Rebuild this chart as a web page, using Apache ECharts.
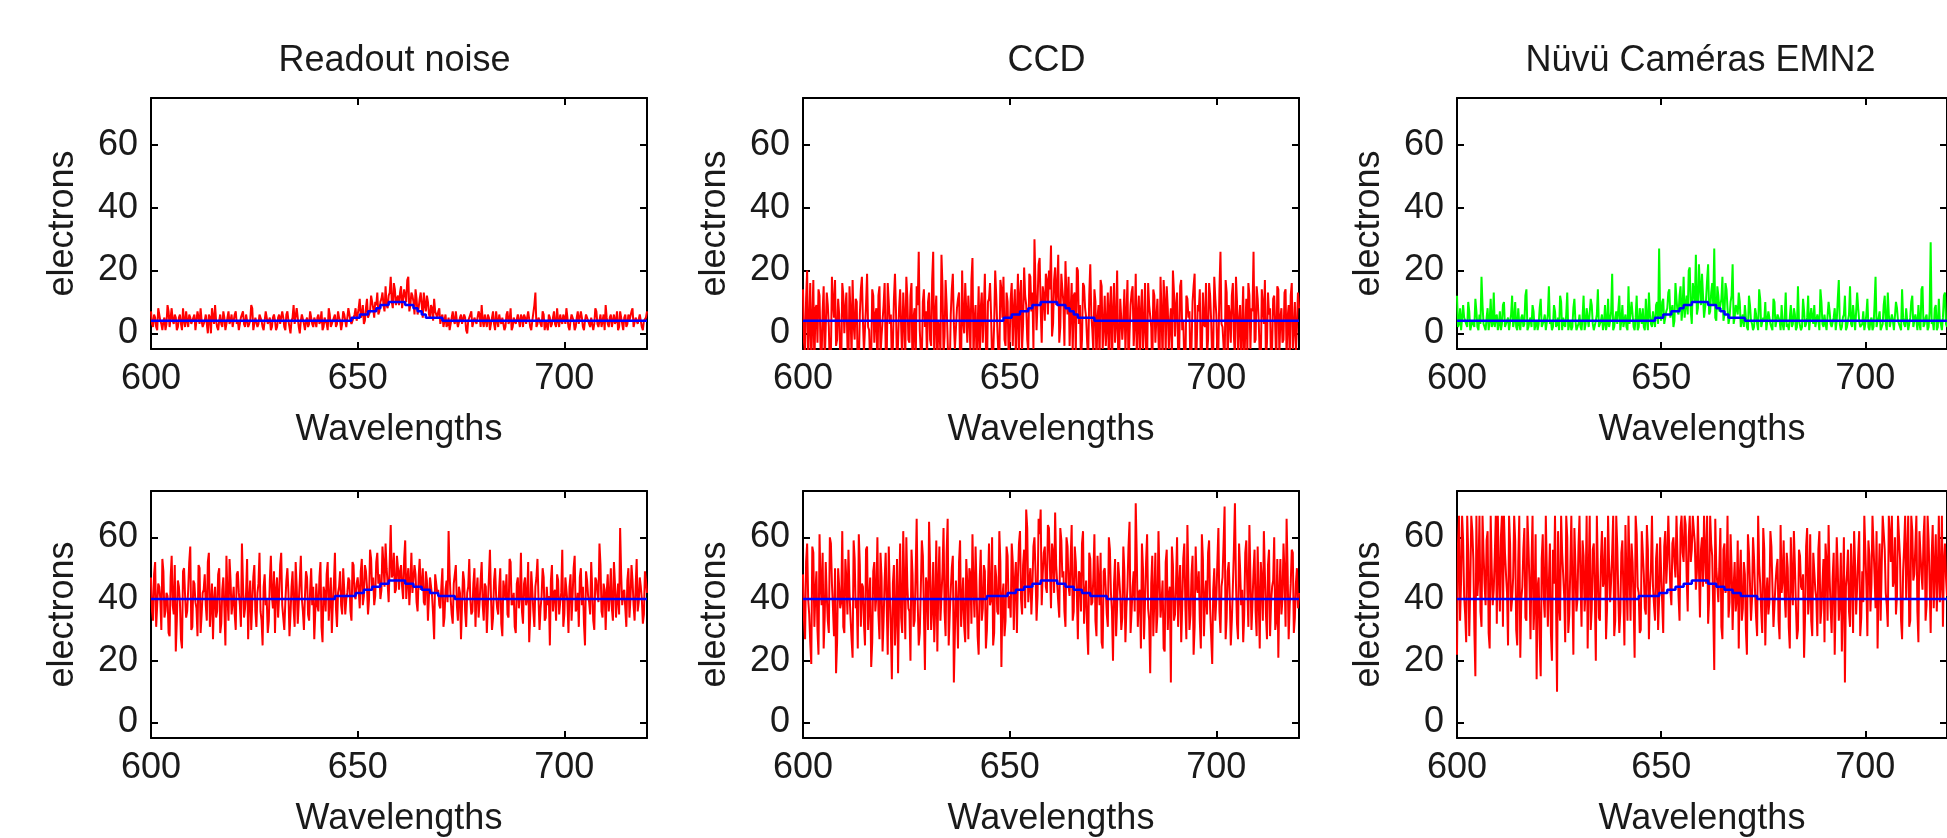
<!DOCTYPE html>
<html><head><meta charset="utf-8">
<script src="https://cdn.jsdelivr.net/npm/echarts@6/dist/echarts.min.js"></script>
<style>html,body{margin:0;padding:0;background:#fff}#c{width:1947px;height:838px}</style>
</head><body><div id="c"></div>
<script>
// ---------- data ----------
const titles = ['Readout noise', 'CCD', 'Nüvü Caméras EMN2'];
const xTicks = [600, 650, 700];
const yTicks = [0, 20, 40, 60];
const xName = 'Wavelengths';
const yName = 'electrons';

// noise samples at 600, 600.5, ... 720 nm (241 values each)
const readoutTop = [
7,2,5,1,6,3,4,1,9,2,8,3,5,2,6,1,4,7,2,5,
3,6,1,5,8,2,4,3,6,0,5,9,2,4,3,7,1,5,3,6,
2,7,4,1,5,3,6,2,4,8,1,5,3,6,2,4,7,3,1,5,
4,2,6,3,5,1,7,2,4,9,3,5,0,6,3,4,2,7,3,5,
2,6,4,1,5,3,8,2,4,6,3,5,1,7,4,2,6,3,5,8,
4,11,6,3,8,5,7,12,5,9,6,10,13,7,9,12,18,8,14,11,
9,15,8,12,17,7,13,10,14,6,11,9,13,7,10,5,8,11,6,7,
3,6,4,2,5,1,7,3,4,2,6,3,5,0,4,7,2,5,3,6,
9,2,4,6,1,5,3,7,2,4,5,1,6,3,8,2,5,3,4,6,
2,5,3,7,1,4,13,3,5,2,6,4,1,5,3,7,2,4,6,3,
5,8,2,4,6,1,5,3,7,2,4,6,3,5,1,8,3,4,2,6,
9,3,5,2,6,4,1,7,3,5,2,6,4,8,2,5,3,6,1,4,7];
const ccdTop = [
14,-6,20,3,-10,17,8,-3,12,-8,15,2,9,-12,18,5,-4,11,-7,16,
0,13,-9,7,17,-2,10,-11,14,4,-6,19,1,-8,12,6,-14,15,-1,9,
-5,16,3,-10,11,7,-3,14,-9,5,18,-2,12,-13,8,15,26,-6,10,2,
-8,13,-4,26,6,-11,1,25,-7,17,9,-12,14,3,-5,11,-9,20,0,7,
12,-6,24,4,-10,15,8,-3,19,-13,11,6,-7,20,2,-9,14,18,-4,10,
-2,16,7,-9,19,12,-5,21,9,-6,18,13,30,1,22,8,15,4,17,20,
28,3,21,14,-3,19,10,23,6,-4,16,12,-7,20,9,-2,15,5,-8,22,
1,14,-10,9,17,-5,12,3,-12,15,7,-3,20,-8,11,4,-6,17,0,13,
-4,19,6,-11,14,2,-7,16,9,-13,12,5,-2,18,-9,10,15,-5,8,20,
-1,13,-8,17,4,-12,11,7,-4,15,-10,9,14,-6,3,16,-2,12,-9,18,
6,-5,26,2,-11,13,9,-3,16,-8,10,4,-14,15,1,-6,12,8,26,-2,
11,-7,14,3,-9,13,8,-4,12,-10,14,5,-3,13,-8,9,12,-5,10,2,8];
const emTop = [
12,3,1,9,5,2,7,1,4,11,2,6,18,3,1,8,4,2,13,5,
1,7,3,10,2,5,1,12,4,2,8,1,6,3,14,2,5,9,1,4,
3,11,2,6,1,15,4,2,7,3,1,10,5,2,13,3,1,8,4,2,
6,1,12,3,5,2,9,1,4,14,2,6,3,1,11,4,19,2,7,3,
1,9,4,2,15,3,6,1,12,2,5,8,1,4,13,3,7,2,10,27,
4,11,3,8,14,5,2,16,7,12,4,18,9,6,21,3,13,25,8,15,
19,5,11,22,7,16,27,4,12,9,18,6,14,3,10,22,5,8,13,2,
6,9,2,12,4,1,8,3,14,2,5,10,1,7,3,11,2,6,4,9,
1,13,3,5,2,8,1,15,4,2,7,3,12,1,5,9,2,4,14,3,
6,1,10,3,2,8,4,17,1,5,12,2,6,3,9,1,13,4,2,7,
3,11,1,5,2,18,4,7,1,9,3,13,2,6,1,10,4,2,14,3,
8,1,5,12,2,4,9,1,15,3,6,2,29,4,8,1,11,3,5,13,2];
const readoutBottom = [
47,33,52,38,44,30,49,36,41,28,54,35,23,46,39,24,50,34,43,57,
31,45,37,51,29,42,48,33,55,38,27,44,36,50,32,47,25,41,53,35,
44,30,49,38,58,34,42,27,46,39,51,31,45,36,25,48,40,33,54,37,
29,47,41,55,34,39,50,28,44,37,52,32,46,40,30,49,35,43,38,27,
45,36,52,26,42,48,33,47,39,55,31,44,38,50,35,42,46,33,51,40,
47,37,53,41,49,35,56,43,38,52,45,40,57,44,50,39,64,48,42,54,
43,51,40,59,46,38,55,42,48,36,53,44,39,49,33,47,41,27,45,43,
37,50,34,46,62,40,32,48,38,44,27,49,36,42,53,35,45,31,47,39,
52,33,44,38,56,30,46,41,35,50,28,43,48,34,52,39,31,45,37,55,
32,47,40,26,49,36,44,53,30,41,47,34,38,25,51,42,33,46,39,56,
35,43,29,48,41,54,37,31,50,44,25,46,39,52,33,47,42,58,36,45,
30,48,41,37,52,34,45,63,38,43,31,50,40,46,33,53,39,44,32,49,42];
const ccdBottom = [
48,27,58,35,19,55,42,30,61,38,24,52,33,60,45,28,16,50,37,62,
29,46,56,34,21,53,40,61,31,44,25,57,39,18,49,36,60,27,47,33,
55,22,42,14,51,35,16,58,29,45,60,37,20,48,33,66,25,43,54,17,
44,65,30,52,38,23,57,41,63,28,66,35,50,13,46,24,59,39,31,53,
27,48,61,34,43,22,56,37,49,30,58,40,25,51,36,62,18,45,33,54,
41,58,30,52,47,62,35,56,69,39,50,44,60,33,66,69,48,57,42,63,
37,55,68,45,34,59,49,31,57,41,64,36,52,27,48,58,32,46,22,53,
39,61,28,45,55,24,50,35,60,42,20,53,38,47,30,57,26,44,65,36,
49,71,31,43,58,27,52,37,16,54,40,29,62,34,46,23,56,41,13,51,
35,60,44,26,53,38,64,30,48,22,57,42,33,61,28,46,55,37,19,50,
40,63,29,47,70,34,52,25,44,71,32,58,38,26,55,43,64,30,49,36,
57,24,46,62,35,51,28,44,60,33,21,53,40,48,66,27,45,55,34,50,42];
const emBottom = [
22,67,46,59,35,67,28,67,53,15,41,67,31,55,38,62,24,50,43,67,
67,36,67,67,48,25,58,40,67,30,52,21,44,63,33,57,27,67,39,14,
47,15,61,34,67,45,29,56,67,10,38,67,48,26,60,35,67,22,51,40,
67,31,54,43,24,67,37,58,20,49,33,62,46,27,67,39,55,28,67,41,
36,59,25,47,67,33,52,21,61,42,30,55,37,64,27,50,44,33,58,40,
48,29,62,53,67,38,60,47,67,33,67,52,64,36,67,56,67,43,67,34,
60,67,45,32,67,54,17,50,39,63,27,58,44,34,61,30,52,40,24,56,
37,48,22,55,33,60,42,28,51,36,63,25,47,39,57,31,45,53,27,42,
59,34,50,24,46,62,38,30,54,43,21,57,35,61,28,49,40,56,32,45,
26,52,64,37,47,22,60,33,55,41,13,48,36,58,29,51,44,62,34,39,
67,28,54,45,67,37,24,58,50,67,42,31,61,67,46,35,67,53,27,57,
40,67,33,62,48,67,26,55,43,67,38,59,29,64,50,36,67,45,31,58,41];

// in-between noise samples at 600.25, 600.75, ... 719.75 nm (240 values each)
const readoutTopB = [
3,6,2,8,4,1,5,3,7,2,4,6,1,5,3,8,2,4,6,3,
5,1,7,3,4,2,6,0,5,8,3,4,1,6,2,5,3,7,4,2,
6,3,1,5,7,2,4,3,9,1,5,2,6,4,1,7,3,5,2,6,
1,5,3,7,2,6,4,0,5,3,8,2,4,6,1,5,3,7,2,4,
5,3,7,2,4,1,6,3,5,2,7,4,3,6,2,8,4,3,6,4,
8,5,9,4,11,6,12,8,10,13,7,11,9,15,8,13,10,16,9,12,
13,8,14,10,18,9,12,6,11,8,13,5,9,12,6,9,4,7,5,8,
5,2,6,3,1,5,4,7,2,5,3,6,1,4,6,2,5,3,7,2,
4,6,2,5,3,7,1,4,6,3,5,2,7,4,1,5,3,6,2,5,
6,3,7,2,4,9,2,5,3,7,1,4,6,2,5,3,8,2,4,6,
3,5,1,6,4,2,7,3,5,1,6,4,2,5,3,7,2,6,4,1,
5,2,6,4,3,7,2,5,1,6,3,4,7,2,5,3,6,2,4,5];
const ccdTopB = [
-3,11,-9,16,4,-12,9,14,-5,7,-10,13,2,-7,10,17,-2,6,-11,12,
8,-4,15,-8,3,11,-13,6,18,-6,9,2,-10,14,-3,8,12,-7,4,16,
-9,10,6,-4,19,-11,8,2,13,-7,11,-3,16,5,-12,9,1,-8,14,7,
10,-2,17,-9,12,4,-6,15,-1,9,-14,6,19,-5,8,13,-10,4,16,-3,
5,17,-8,9,1,-11,13,7,-4,10,16,-9,3,12,-6,17,5,-2,13,-7,
11,-4,14,6,-8,17,3,12,-2,19,7,-5,15,10,24,-3,12,19,6,14,
-1,17,9,25,2,14,-4,11,18,7,-6,13,21,3,-9,16,8,-3,12,6,
-6,10,5,-9,15,2,-4,13,8,-11,16,3,-7,11,-2,14,6,-12,9,15,
3,-8,12,7,-5,16,-10,9,2,14,-3,11,-12,6,17,-6,8,3,-9,13,
9,-6,15,1,-9,12,5,-13,10,19,-4,7,-11,13,2,-7,16,4,-5,11,
-7,14,3,-4,17,-10,6,12,-1,18,-6,9,3,-12,11,16,-5,7,-3,15,
4,-10,9,17,-3,6,-12,11,2,15,-7,8,-2,14,5,-9,16,1,-6,13];
const emTopB = [
2,8,1,5,3,10,1,4,2,7,1,3,9,2,5,1,11,3,2,6,
3,1,9,2,4,1,6,2,10,1,3,5,2,12,1,4,2,7,3,1,
8,2,4,1,6,3,1,9,2,5,12,1,3,6,1,4,2,11,1,3,
2,5,1,8,2,11,3,1,6,2,4,1,9,3,2,7,1,5,3,12,
4,2,6,1,3,10,2,5,1,8,3,2,11,1,6,2,4,9,3,6,
10,3,7,13,5,9,4,11,6,15,8,5,12,20,7,16,10,6,22,9,
12,8,17,6,13,9,5,15,7,11,4,16,8,5,12,3,9,6,10,4,
2,5,1,9,3,2,6,1,11,2,4,1,7,3,1,10,2,5,1,3,
5,2,1,9,3,6,2,4,1,11,2,5,1,8,3,2,6,1,10,2,
3,1,7,2,5,1,11,3,2,6,1,4,15,2,5,1,8,2,3,1,
6,2,4,1,9,2,5,1,3,12,1,6,2,4,1,8,3,1,5,2,
4,1,10,2,6,1,3,14,2,5,1,7,3,1,9,2,4,1,12,3];
const readoutBottomB = [
36,48,31,45,40,53,34,42,29,47,38,51,33,44,27,49,41,36,52,30,
46,39,28,50,35,43,38,52,31,45,40,34,48,29,43,37,54,33,46,39,
35,48,42,31,45,37,53,40,30,47,36,42,55,33,44,38,29,46,41,49,
43,34,51,38,30,46,42,35,49,31,44,39,54,36,41,47,33,50,44,36,
38,47,31,44,36,52,40,29,45,37,42,49,35,43,40,47,36,52,41,45,
43,49,38,51,44,40,53,47,41,55,48,43,51,58,45,52,47,55,43,50,
49,44,53,40,50,45,42,51,39,47,43,50,38,46,41,44,35,48,42,38,
44,31,43,39,48,35,45,51,33,42,38,46,31,44,40,36,50,42,34,46,
38,45,29,47,41,34,50,37,44,32,46,40,35,53,38,42,29,47,41,36,
45,38,52,35,43,31,47,40,37,50,33,44,41,46,36,43,48,35,42,31,
47,39,44,33,50,36,42,47,38,32,49,41,35,43,30,46,39,51,34,43,
42,36,50,33,45,40,35,48,42,37,46,34,51,38,44,36,47,40,35,46];
const ccdBottomB = [
33,52,40,26,57,31,49,22,45,55,34,41,29,58,37,50,26,44,39,31,
53,35,42,27,59,37,24,51,45,32,56,30,47,26,52,41,35,55,23,46,
38,57,30,45,25,53,41,34,62,27,44,36,56,31,48,39,29,59,36,47,
30,51,37,26,59,45,33,49,36,55,25,43,54,29,38,52,31,47,26,45,
50,32,43,57,28,46,33,51,24,44,38,60,29,47,35,52,41,28,57,37,
34,52,46,29,58,40,51,37,63,45,35,57,49,41,61,38,55,44,64,50,
58,42,51,39,63,47,36,60,44,53,33,57,42,49,36,62,41,30,55,38,
47,33,54,38,26,49,43,31,56,36,45,28,52,41,34,49,37,57,29,44,
36,54,42,24,50,39,61,33,45,28,55,35,47,39,24,52,30,44,57,33,
45,31,51,38,58,27,46,35,54,31,44,49,24,53,40,35,59,28,43,33,
52,36,44,58,27,49,41,33,56,45,27,50,43,35,59,31,47,39,56,28,
40,52,33,48,27,56,39,46,30,53,42,35,58,31,49,38,56,29,45,37];
const emBottomB = [
58,33,67,41,26,55,44,62,30,67,48,36,67,45,59,29,67,38,54,32,
49,60,31,55,42,67,36,47,59,25,67,40,56,34,67,45,52,30,61,44,
27,53,40,67,31,58,20,45,39,62,33,55,41,67,29,50,44,63,36,57,
45,59,36,67,48,30,56,41,67,34,53,44,60,37,51,46,67,33,57,29,
55,42,64,33,50,58,39,67,44,29,62,48,35,56,43,67,38,53,30,60,
39,57,45,67,43,58,52,67,41,63,55,67,47,60,52,67,58,49,67,56,
44,55,67,40,58,37,66,45,51,31,56,42,67,39,50,44,36,59,47,33,
52,30,61,45,40,53,34,67,45,29,56,41,35,62,44,38,50,33,64,46,
41,55,31,60,38,51,27,56,44,48,35,63,41,33,55,43,28,62,37,53,
58,33,47,29,55,41,50,39,23,60,44,56,31,47,62,35,54,28,49,67,
45,59,36,67,48,62,45,33,67,56,38,67,52,44,60,41,67,33,49,67,
54,31,67,46,57,36,62,48,60,33,67,45,54,37,61,48,39,67,52,47];

// true signal, every 1 nm from 600 to 720 (121 values)
const signalTop = [
4,4,4,4,4,4,4,4,4,4, 4,4,4,4,4,4,4,4,4,4, 4,4,4,4,4,4,4,4,4,4, 4,4,4,4,4,4,4,4,4,4,
4,4,4,4,4,4,4,4,4,5, 5,6,6,7,7,8,9,9,10,10, 10,10,9,9,8,7,6,5,5,5, 5,4,4,4,4,4,4,4,4,4,
4,4,4,4,4,4,4,4,4,4, 4,4,4,4,4,4,4,4,4,4, 4,4,4,4,4,4,4,4,4,4, 4,4,4,4,4,4,4,4,4,4, 4];
const signalBottom = [
40,40,40,40,40,40,40,40,40,40, 40,40,40,40,40,40,40,40,40,40, 40,40,40,40,40,40,40,40,40,40, 40,40,40,40,40,40,40,40,40,40,
40,40,40,40,40,41,41,41,41,41, 42,42,43,43,44,44,45,45,46,46, 46,46,45,45,44,44,43,43,42,42, 41,41,41,41,40,40,40,40,40,40,
40,40,40,40,40,40,40,40,40,40, 40,40,40,40,40,40,40,40,40,40, 40,40,40,40,40,40,40,40,40,40, 40,40,40,40,40,40,40,40,40,40, 40];

// ---------- layout ----------
const cols = [151, 803, 1457];
const rows = [{top: 98, height: 251}, {top: 491, height: 253}];
const W = 496;
const font = '"Liberation Sans", Arial, Helvetica, sans-serif';
const txt = '#1a1a1a';
const FS = 36;

const panels = [
  {row: 0, col: 0, a: readoutTop, b: readoutTopB, color: '#ff0000', signal: signalTop},
  {row: 0, col: 1, a: ccdTop, b: ccdTopB, color: '#ff0000', signal: signalTop},
  {row: 0, col: 2, a: emTop, b: emTopB, color: '#00ff00', signal: signalTop},
  {row: 1, col: 0, a: readoutBottom, b: readoutBottomB, color: '#ff0000', signal: signalBottom},
  {row: 1, col: 1, a: ccdBottom, b: ccdBottomB, color: '#ff0000', signal: signalBottom},
  {row: 1, col: 2, a: emBottom, b: emBottomB, color: '#ff0000', signal: signalBottom}
];

function merge(a, b) {
  const out = [];
  a.forEach((v, i) => {
    out.push([600 + i * 0.5, v]);
    if (i < b.length) out.push([600.25 + i * 0.5, b[i]]);
  });
  return out;
}

const grid = [], xAxis = [], yAxis = [], series = [];
const lineStyle = {color: '#000', width: 2};
panels.forEach((p, k) => {
  grid.push({left: cols[p.col], top: rows[p.row].top, width: W, height: rows[p.row].height});
  const axisLine = {show: true, onZero: false, lineStyle};
  const xt = {show: true, inside: true, length: 7, customValues: xTicks, lineStyle};
  const yt = {show: true, inside: true, length: 7, customValues: yTicks, lineStyle};
  xAxis.push({gridIndex: k, type: 'value', min: 600, max: 720, position: 'bottom',
    axisLine, axisTick: xt, splitLine: {show: false},
    axisLabel: {customValues: xTicks, fontSize: FS, color: txt, fontFamily: font, margin: 12},
    name: xName, nameLocation: 'middle', nameGap: 63,
    nameTextStyle: {fontSize: FS, color: txt, fontFamily: font}});
  xAxis.push({gridIndex: k, type: 'value', min: 600, max: 720, position: 'top',
    axisLine, axisTick: xt, splitLine: {show: false}, axisLabel: {show: false}});
  yAxis.push({gridIndex: k, type: 'value', min: -5, max: 75, position: 'left',
    axisLine, axisTick: yt, splitLine: {show: false},
    axisLabel: {customValues: yTicks, fontSize: FS, color: txt, fontFamily: font, margin: 13},
    name: yName, nameLocation: 'middle', nameGap: 70,
    nameTextStyle: {fontSize: FS, color: txt, fontFamily: font}});
  yAxis.push({gridIndex: k, type: 'value', min: -5, max: 75, position: 'right',
    axisLine, axisTick: yt, splitLine: {show: false}, axisLabel: {show: false}});
  series.push({type: 'line', xAxisIndex: 2 * k, yAxisIndex: 2 * k, silent: true,
    data: merge(p.a, p.b), showSymbol: false, clip: true, z: 2, sampling: null,
    lineStyle: {color: p.color, width: 2}, itemStyle: {color: p.color}});
  series.push({type: 'line', xAxisIndex: 2 * k, yAxisIndex: 2 * k, silent: true,
    data: p.signal.map((v, i) => [600 + i, v]), step: 'middle', showSymbol: false, clip: true, z: 3,
    lineStyle: {color: '#0000ff', width: 2.5}, itemStyle: {color: '#0000ff'}});
});

const graphic = titles.map((t, c) => ({
  type: 'text', x: cols[c] + W / 2 - 4.5, y: 61, silent: true,
  style: {text: t, fontSize: FS, fontFamily: font, fill: txt,
    align: 'center', verticalAlign: 'middle', textAlign: 'center', textVerticalAlign: 'middle'}
}));

const chart = echarts.init(document.getElementById('c'), null, {renderer: 'canvas'});
chart.setOption({animation: false, backgroundColor: '#fff', grid, xAxis, yAxis, series, graphic});
</script>
</body></html>
